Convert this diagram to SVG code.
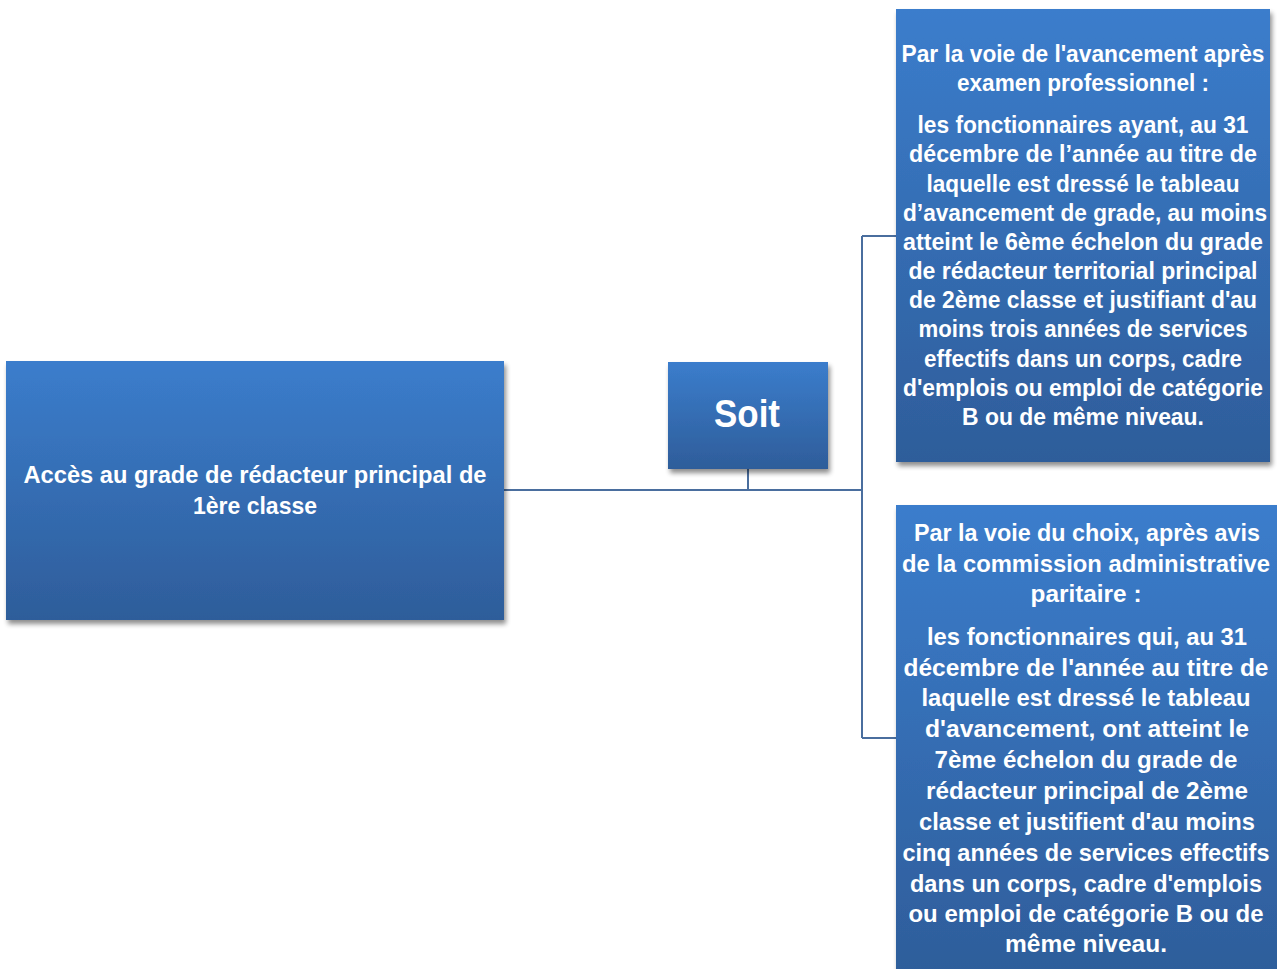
<svg xmlns="http://www.w3.org/2000/svg" width="1277" height="969" viewBox="0 0 1277 969">
<defs>
<linearGradient id="g" x1="0" y1="0" x2="0" y2="1">
<stop offset="0" stop-color="#3B7DCC"/>
<stop offset="1" stop-color="#2E5D9A"/>
</linearGradient>
<filter id="sh" x="-10%" y="-10%" width="120%" height="120%">
<feGaussianBlur in="SourceAlpha" stdDeviation="2.5"/>
<feOffset dx="2" dy="4" result="b"/>
<feComponentTransfer><feFuncA type="linear" slope="0.45"/></feComponentTransfer>
<feMerge><feMergeNode/><feMergeNode in="SourceGraphic"/></feMerge>
</filter>
</defs>
<style>
.box{fill:url(#g);filter:url(#sh)}
.t{font-family:"Liberation Sans",Arial,sans-serif;font-weight:bold;fill:#fff;text-anchor:middle}
.s{font-size:23px}
.b{font-size:24px}
.conn{stroke:#4A6E9E;stroke-width:2;fill:none}
</style>
<rect width="1277" height="969" fill="#fff"/>
<g id="connectors">
<path class="conn" d="M504 490 H862 M748 469 V490 M862 236 V738 M862 236 H896 M862 738 H896"/>
</g>
<g id="node-main">
<rect class="box" x="6" y="361" width="498" height="259"/>
<text class="t b" x="255" y="483" textLength="463" lengthAdjust="spacingAndGlyphs">Accès au grade de rédacteur principal de</text>
<text class="t b" x="255" y="514" textLength="124" lengthAdjust="spacingAndGlyphs">1ère classe</text>
</g>
<g id="node-soit">
<rect class="box" x="668" y="362" width="160" height="107"/>
<text class="t" style="font-size:38px" x="747" y="427" textLength="66" lengthAdjust="spacingAndGlyphs">Soit</text>
</g>
<g id="node-examen">
<rect class="box" x="896" y="9" width="374" height="453"/>
<text class="t s" x="1083" y="62" textLength="363" lengthAdjust="spacingAndGlyphs">Par la voie de l'avancement après</text>
<text class="t s" x="1083" y="91" textLength="252" lengthAdjust="spacingAndGlyphs">examen professionnel :</text>
<text class="t s" x="1083" y="133" textLength="331" lengthAdjust="spacingAndGlyphs">les fonctionnaires ayant, au 31</text>
<text class="t s" x="1083" y="162" textLength="348" lengthAdjust="spacingAndGlyphs">décembre de l’année au titre de</text>
<text class="t s" x="1083" y="192" textLength="313" lengthAdjust="spacingAndGlyphs">laquelle est dressé le tableau</text>
<text class="t s" x="1085" y="221" textLength="364" lengthAdjust="spacingAndGlyphs">d’avancement de grade, au moins</text>
<text class="t s" x="1083" y="250" textLength="360" lengthAdjust="spacingAndGlyphs">atteint le 6ème échelon du grade</text>
<text class="t s" x="1083" y="279" textLength="349" lengthAdjust="spacingAndGlyphs">de rédacteur territorial principal</text>
<text class="t s" x="1083" y="308" textLength="348" lengthAdjust="spacingAndGlyphs">de 2ème classe et justifiant d'au</text>
<text class="t s" x="1083" y="337" textLength="329" lengthAdjust="spacingAndGlyphs">moins trois années de services</text>
<text class="t s" x="1083" y="367" textLength="318" lengthAdjust="spacingAndGlyphs">effectifs dans un corps, cadre</text>
<text class="t s" x="1083" y="396" textLength="360" lengthAdjust="spacingAndGlyphs">d'emplois ou emploi de catégorie</text>
<text class="t s" x="1083" y="425" textLength="242" lengthAdjust="spacingAndGlyphs">B ou de même niveau.</text>
</g>
<g id="node-choix">
<rect class="box" x="896" y="505" width="381" height="470"/>
<text class="t b" x="1087" y="541" textLength="346" lengthAdjust="spacingAndGlyphs">Par la voie du choix, après avis</text>
<text class="t b" x="1086" y="572" textLength="368" lengthAdjust="spacingAndGlyphs">de la commission administrative</text>
<text class="t b" x="1086" y="602" textLength="111" lengthAdjust="spacingAndGlyphs">paritaire :</text>
<text class="t b" x="1087" y="645" textLength="320" lengthAdjust="spacingAndGlyphs">les fonctionnaires qui, au 31</text>
<text class="t b" x="1086" y="676" textLength="365" lengthAdjust="spacingAndGlyphs">décembre de l'année au titre de</text>
<text class="t b" x="1086" y="706" textLength="329" lengthAdjust="spacingAndGlyphs">laquelle est dressé le tableau</text>
<text class="t b" x="1087" y="737" textLength="324" lengthAdjust="spacingAndGlyphs">d'avancement, ont atteint le</text>
<text class="t b" x="1086" y="768" textLength="303" lengthAdjust="spacingAndGlyphs">7ème échelon du grade de</text>
<text class="t b" x="1087" y="799" textLength="322" lengthAdjust="spacingAndGlyphs">rédacteur principal de 2ème</text>
<text class="t b" x="1087" y="830" textLength="336" lengthAdjust="spacingAndGlyphs">classe et justifient d'au moins</text>
<text class="t b" x="1086" y="861" textLength="367" lengthAdjust="spacingAndGlyphs">cinq années de services effectifs</text>
<text class="t b" x="1086" y="892" textLength="352" lengthAdjust="spacingAndGlyphs">dans un corps, cadre d'emplois</text>
<text class="t b" x="1086" y="922" textLength="355" lengthAdjust="spacingAndGlyphs">ou emploi de catégorie B ou de</text>
<text class="t b" x="1086" y="952" textLength="162" lengthAdjust="spacingAndGlyphs">même niveau.</text>
</g>
</svg>
